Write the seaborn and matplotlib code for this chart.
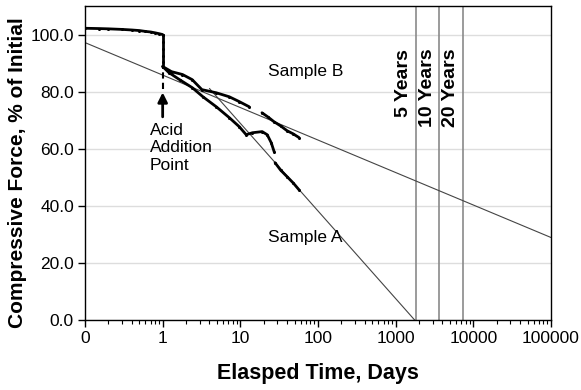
import numpy as np
import pandas as pd
import matplotlib
matplotlib.use("Agg")
import matplotlib.pyplot as plt
import seaborn as sns

# measured data (days, % of initial force)
pre_days = [0.1, 0.15, 0.2, 0.3, 0.4, 0.5, 0.6, 0.7, 0.8, 0.9, 1.0]
pre_force = [102.2, 102.1, 102.0, 101.8, 101.6, 101.4, 101.1, 100.9, 100.6, 100.3, 100.0]

drop_days = [1.0, 1.0, 1.0, 1.0, 1.0, 1.0]
drop_force = [100.0, 97.5, 95.0, 92.5, 90.5, 88.8]

b1_days = [1.0, 1.3, 1.8, 2.4, 3.2, 4.9, 7.2, 9.7, 13.0]
b1_force = [88.8, 87.0, 86.0, 84.2, 80.7, 79.6, 78.2, 76.5, 74.7]
b2_days = [19.0, 23.0, 27.0, 33.0, 40.0, 48.0, 57.0]
b2_force = [72.6, 71.0, 69.5, 68.0, 66.3, 65.2, 63.9]

a1_days = [1.0, 1.2, 1.65, 2.4, 3.3, 4.9, 7.2, 9.7, 11.9, 14.3, 19.1, 22.2, 25.0, 27.3]
a1_force = [88.8, 86.7, 84.2, 81.4, 78.2, 74.7, 70.9, 67.7, 64.9, 65.6, 66.0, 64.9, 62.1, 58.9]
a2_days = [28.0, 33.0, 40.0, 48.0, 57.0]
a2_force = [55.1, 52.5, 50.2, 48.0, 45.6]

# logarithmic trend lines: force = c0 + c1 * log10(days)
trend_b = (85.8, -11.38)
trend_a = (99.6, -30.7)

year_days = [1826, 3652, 7305]
year_labels = ["5 Years", "10 Years", "20 Years"]
year_label_y = [71.0, 67.5, 67.5]

xticks = [0.1, 1, 10, 100, 1000, 10000, 100000]
xticklabels = ["0", "1", "10", "100", "1000", "10000", "100000"]
yticks = [0, 20, 40, 60, 80, 100]

frames = []
for name, d, f in [("pre", pre_days, pre_force), ("drop", drop_days, drop_force),
                   ("b1", b1_days, b1_force), ("b2", b2_days, b2_force),
                   ("a1", a1_days, a1_force), ("a2", a2_days, a2_force)]:
    frames.append(pd.DataFrame({"days": d, "force": f, "seg": name}))
data = pd.concat(frames, ignore_index=True)

sns.set_style("white")
plt.rcParams["font.family"] = ["Liberation Sans", "DejaVu Sans"]
plt.rcParams["text.color"] = "black"
plt.rcParams["xtick.color"] = "black"
plt.rcParams["ytick.color"] = "black"
plt.rcParams["axes.labelcolor"] = "black"

fig, ax = plt.subplots(figsize=(5.81, 3.9), dpi=100)
fig.subplots_adjust(left=85 / 581, right=551 / 581, top=1 - 6 / 390, bottom=1 - 320 / 390)

ax.set_xscale("log")

# trend lines
xb = np.logspace(-1, 5, 50)
sns.lineplot(x=xb, y=trend_b[0] + trend_b[1] * np.log10(xb), ax=ax,
             color="#444444", lw=0.8)
xa_end = 10 ** (-trend_a[0] / trend_a[1])
xa = np.logspace(np.log10(4.0), np.log10(xa_end), 50)
sns.lineplot(x=xa, y=trend_a[0] + trend_a[1] * np.log10(xa), ax=ax,
             color="#444444", lw=0.8)

# measured curves
sns.lineplot(data=data, x="days", y="force", units="seg", estimator=None,
             sort=False, ax=ax, color="black", lw=2.0, marker="o",
             markersize=2.2, markeredgewidth=0)

# design life markers
for d, lab, ly in zip(year_days, year_labels, year_label_y):
    ax.axvline(d, color="#8a8a8a", lw=1.2, zorder=1)
    ax.text(d * 0.9, ly, lab, rotation=90, ha="right", va="bottom",
            fontsize=14, fontweight="bold")

# acid addition arrow
ax.plot([1, 1], [81, 88.8], color="black", lw=1.5, ls=(0, (3, 2)))
ax.annotate("", xy=(1, 80.7), xytext=(1, 70.2),
            arrowprops=dict(arrowstyle="-|>", color="black", lw=2.0,
                            mutation_scale=14))
ax.text(0.68, 69, "Acid\nAddition\nPoint", ha="left", va="top",
        fontsize=12.5, linespacing=1.2)
ax.text(70, 87, "Sample B", ha="center", va="center", fontsize=12.5)
ax.text(68, 29, "Sample A", ha="center", va="center", fontsize=12.5)

ax.set_xlim(0.1, 100000)
ax.set_ylim(0, 110)
ax.set_xticks(xticks)
ax.set_xticklabels(xticklabels)
ax.set_yticks(yticks)
ax.set_yticklabels([f"{v:.1f}" for v in yticks])
ax.xaxis.set_minor_locator(matplotlib.ticker.LogLocator(base=10, subs=np.arange(2, 10)))
ax.xaxis.set_minor_formatter(matplotlib.ticker.NullFormatter())
ax.tick_params(axis="both", which="major", direction="out", length=5,
               width=1, labelsize=12.5, bottom=True, left=True, pad=3)
ax.tick_params(axis="x", which="minor", direction="out", length=3,
               width=0.8, bottom=True)
ax.yaxis.grid(True, color="#dddddd", lw=1)
ax.set_axisbelow(True)
for s in ax.spines.values():
    s.set_color("black")
    s.set_linewidth(1.0)

ax.set_xlabel("Elasped Time, Days", fontsize=15.5, fontweight="bold", labelpad=12)
ax.set_ylabel("Compressive Force, % of Initial", fontsize=15, fontweight="bold")
ax.yaxis.set_label_coords(-0.125, 0.47)

fig.savefig("out.png", dpi=100)
